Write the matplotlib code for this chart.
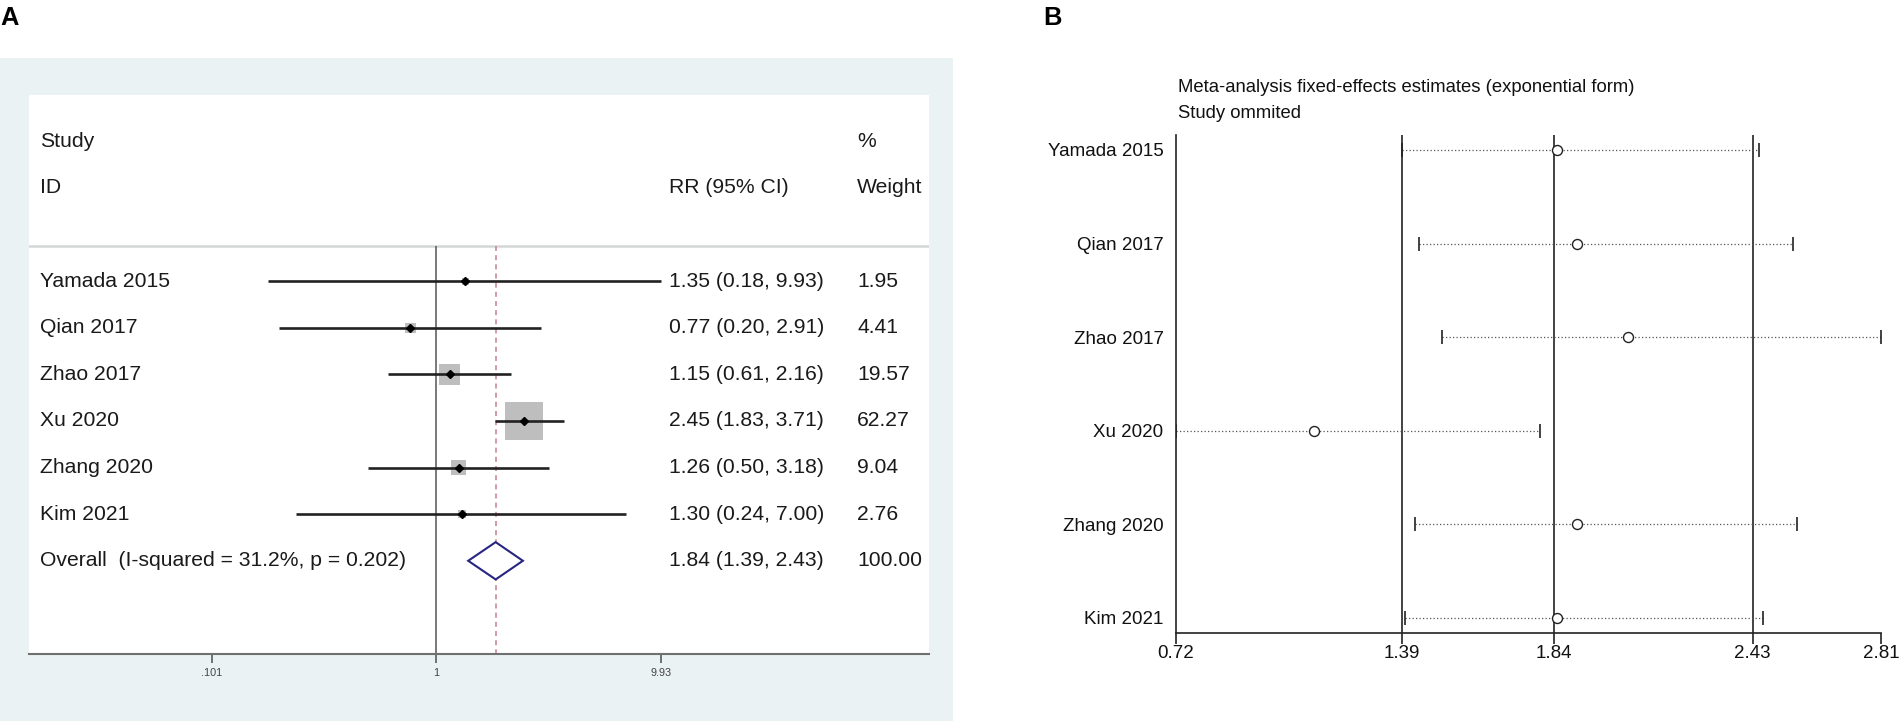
import matplotlib
matplotlib.use("Agg")
import matplotlib.pyplot as plt
import matplotlib.transforms as mtransforms
from matplotlib.patches import Rectangle
import numpy as np

plt.rcParams['font.family'] = ['Liberation Sans', 'DejaVu Sans']

# ---------------- data ----------------
studies = ["Yamada 2015", "Qian 2017", "Zhao 2017", "Xu 2020", "Zhang 2020", "Kim 2021"]
rr = [1.35, 0.77, 1.15, 2.45, 1.26, 1.30]
rr_low = [0.18, 0.20, 0.61, 1.83, 0.50, 0.24]
rr_high = [9.93, 2.91, 2.16, 3.71, 3.18, 7.00]
weights = [1.95, 4.41, 19.57, 62.27, 9.04, 2.76]
overall_rr = 1.84
overall_low = 1.39
overall_high = 2.43
overall_label = "Overall  (I-squared = 31.2%, p = 0.202)"
a_ticks = [0.101, 1, 9.93]
a_ticklabels = [".101", "1", "9.93"]

# leave-one-out (study omitted) estimates
omit_est = [1.85, 1.91, 2.06, 1.13, 1.91, 1.85]
omit_low = [1.39, 1.44, 1.51, 0.72, 1.43, 1.40]
omit_high = [2.45, 2.55, 2.81, 1.80, 2.56, 2.46]
b_ticks = [0.72, 1.39, 1.84, 2.43, 2.81]
b_ticklabels = ["0.72", "1.39", "1.84", "2.43", "2.81"]

W, H = 1900, 721
PT = 72 / 100.0  # points per pixel at dpi 100
fig = plt.figure(figsize=(W / 100, H / 100), dpi=100)

# panel A background (Stata graph region colour)
bg = Rectangle((0, 0), 953 / W, (H - 58) / H, transform=fig.transFigure,
               facecolor='#EAF2F3', edgecolor='none', zorder=-10)
fig.patches.append(bg)

# ---------------- Panel A: forest plot ----------------
A_left, A_right, A_top, A_bot = 29, 929, 94.7, 654
axA = fig.add_axes([A_left / W, (H - A_bot) / H, (A_right - A_left) / W, (A_bot - A_top) / H])
axA.set_zorder(5)
axA.set_facecolor('white')
axA.set_xscale('log')
null_px, decade_px = 436.0, 225.3
axA.set_xlim(10 ** ((A_left - null_px) / decade_px), 10 ** ((A_right - null_px) / decade_px))
axA.set_ylim(8, -4)
for s in ['top', 'left', 'right']:
    axA.spines[s].set_visible(False)
axA.spines['bottom'].set_color('#707070')
axA.spines['bottom'].set_linewidth(1.5)
axA.set_yticks([])
axA.set_xticks(a_ticks)
axA.set_xticklabels(a_ticklabels)
axA.xaxis.set_minor_locator(matplotlib.ticker.NullLocator())
axA.tick_params(axis='x', direction='out', length=9 * PT, width=1.4, color='#707070',
                labelsize=7.8, labelcolor='#444444', pad=3.5)

trans = mtransforms.blended_transform_factory(axA.transAxes, axA.transData)
fsA = 15.2
col_study, col_rr, col_w = 0.0122, 0.711, 0.92
tc = '#1a1a1a'

axA.text(col_study, -3, "Study", transform=trans, va='center', ha='left', fontsize=fsA, color=tc)
axA.text(col_w, -3, "%", transform=trans, va='center', ha='left', fontsize=fsA, color=tc)
axA.text(col_study, -2, "ID", transform=trans, va='center', ha='left', fontsize=fsA, color=tc)
axA.text(col_rr, -2, "RR (95% CI)", transform=trans, va='center', ha='left', fontsize=fsA, color=tc)
axA.text(col_w, -2, "Weight", transform=trans, va='center', ha='left', fontsize=fsA, color=tc)

# separator line
axA.axhline(-0.75, color='#D5D8D8', linewidth=1.8, zorder=1)

# null line and overall dashed line
axA.vlines(1, -0.75, 8, color='#555555', linewidth=1.1, zorder=2)
axA.vlines(overall_rr, -0.75, 8, color='#C98A96', linewidth=1.2, linestyles=(0, (3, 2.5)), zorder=2)

rows = np.arange(len(studies))
max_side_px = 38.3
for i, (lab, r, lo, hi, w) in enumerate(zip(studies, rr, rr_low, rr_high, weights)):
    side_pt = max_side_px * np.sqrt(w / max(weights)) * PT
    axA.scatter([r], [i], marker='s', s=side_pt ** 2, color='#BEBEBE', edgecolors='none', zorder=3)
    axA.plot([lo, hi], [i, i], color='#222222', linewidth=1.9, solid_capstyle='butt', zorder=4)
    axA.plot([r], [i], marker='D', markersize=4.4, color='black', zorder=5)
    axA.text(col_study, i, lab, transform=trans, va='center', ha='left', fontsize=fsA, color=tc)
    axA.text(col_rr, i, f"{r:.2f} ({lo:.2f}, {hi:.2f})", transform=trans, va='center', ha='left',
             fontsize=fsA, color=tc)
    axA.text(col_w, i, f"{w:.2f}", transform=trans, va='center', ha='left', fontsize=fsA, color=tc)

yo = len(studies)
axA.fill([overall_low, overall_rr, overall_high, overall_rr],
         [yo, yo - 0.4, yo, yo + 0.4], facecolor='white', edgecolor='#262680', linewidth=1.5, zorder=4)
axA.text(col_study, yo, overall_label, transform=trans, va='center', ha='left', fontsize=fsA, color=tc)
axA.text(col_rr, yo, f"{overall_rr:.2f} ({overall_low:.2f}, {overall_high:.2f})", transform=trans,
         va='center', ha='left', fontsize=fsA, color=tc)
axA.text(col_w, yo, "100.00", transform=trans, va='center', ha='left', fontsize=fsA, color=tc)

# ---------------- Panel B: influence analysis ----------------
B_left, B_right, B_top, B_bot = 1175.5, 1881, 135, 633.3
axB = fig.add_axes([B_left / W, (H - B_bot) / H, (B_right - B_left) / W, (B_bot - B_top) / H])
axB.set_xlim(b_ticks[0], b_ticks[-1])
axB.set_ylim(5.167, -0.16)
for s in ['top', 'right']:
    axB.spines[s].set_visible(False)
for s in ['left', 'bottom']:
    axB.spines[s].set_color('#222222')
    axB.spines[s].set_linewidth(1.2)
axB.set_xticks(b_ticks)
axB.set_xticklabels(b_ticklabels)
axB.tick_params(axis='x', direction='out', length=11.5 * PT, width=1.2, color='#222222',
                labelsize=13.5, labelcolor='#111111', pad=0.5)
axB.set_yticks(rows)
axB.set_yticklabels(studies)
axB.tick_params(axis='y', length=0, pad=12 * PT, labelsize=13.5, labelcolor='#111111')

for v in [overall_low, overall_rr, overall_high]:
    axB.axvline(v, color='#222222', linewidth=1.2, zorder=2)

for i, (e, lo, hi) in enumerate(zip(omit_est, omit_low, omit_high)):
    axB.plot([lo, hi], [i, i], color='#555555', linewidth=0.9, linestyle=(0, (1.0, 1.8)), zorder=3)
    axB.plot([lo, hi], [i, i], linestyle='none', marker='|', markersize=13.3 * PT,
             markeredgewidth=1.2, color='#222222', zorder=4)
    axB.plot([e], [i], marker='o', markersize=10 * PT, markerfacecolor='white',
             markeredgecolor='#222222', markeredgewidth=1.0, zorder=5)

axB.text(0.004, 1.0963, "Meta-analysis fixed-effects estimates (exponential form)",
         transform=axB.transAxes, va='center', ha='left', fontsize=13.3, color='#111111')
axB.text(0.004, 1.0441, "Study ommited", transform=axB.transAxes,
         va='center', ha='left', fontsize=13.3, color='#111111')

# panel letters
fig.text(0.5 / W, 1 - 25 / H, "A", fontsize=18.4, fontweight='bold', ha='left', va='baseline')
fig.text(1043 / W, 1 - 25 / H, "B", fontsize=18.4, fontweight='bold', ha='left', va='baseline')

fig.savefig("out.png", dpi=100)
